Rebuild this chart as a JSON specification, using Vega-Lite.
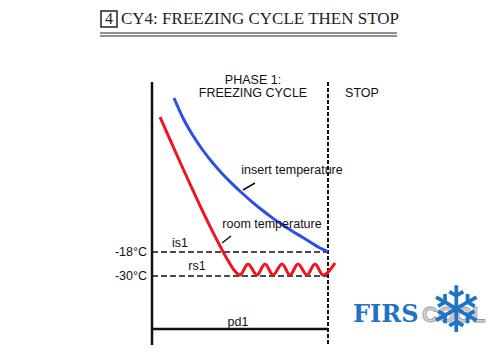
{
  "$schema": "https://vega.github.io/schema/vega-lite/v6.json",
  "width": 497,
  "height": 364,
  "padding": 0,
  "autosize": {"type": "none"},
  "background": "white",
  "config": {"view": {"stroke": null}},
  "encoding": {
    "x": {"type": "quantitative", "scale": {"domain": [-152, 345], "nice": false, "zero": false}, "axis": null},
    "y": {"type": "quantitative", "scale": {"domain": [-74, 108], "nice": false, "zero": false}, "axis": null}
  },
  "layer": [
    {
      "data": {"values": [
        {"t": 0, "t2": 0, "T": 67, "T2": -64.5},
        {"t": 0, "t2": 176, "T": -56.5, "T2": -56.5}
      ]},
      "mark": {"type": "rule", "color": "#111", "strokeWidth": 2.5},
      "encoding": {"x": {"field": "t"}, "x2": {"field": "t2"}, "y": {"field": "T"}, "y2": {"field": "T2"}}
    },
    {
      "data": {"values": [{"t": 176, "t2": 176, "T": 67, "T2": -64.5}]},
      "mark": {"type": "rule", "color": "#111", "strokeWidth": 2, "strokeDash": [4, 2]},
      "encoding": {"x": {"field": "t"}, "x2": {"field": "t2"}, "y": {"field": "T"}, "y2": {"field": "T2"}}
    },
    {
      "data": {"values": [
        {"t": 0, "t2": 176, "T": -18, "T2": -18},
        {"t": 0, "t2": 176, "T": -30, "T2": -30}
      ]},
      "mark": {"type": "rule", "color": "#111", "strokeWidth": 1.6, "strokeDash": [6, 3]},
      "encoding": {"x": {"field": "t"}, "x2": {"field": "t2"}, "y": {"field": "T"}, "y2": {"field": "T2"}}
    },
    {
      "data": {"values": [
        {"t": -52, "t2": 245, "T": 91.5, "T2": 91.5},
        {"t": -52, "t2": 245, "T": 90, "T2": 90}
      ]},
      "mark": {"type": "rule", "color": "#222", "strokeWidth": 1},
      "encoding": {"x": {"field": "t"}, "x2": {"field": "t2"}, "y": {"field": "T"}, "y2": {"field": "T2"}}
    },
    {
      "data": {"values": [
        {"t": 91, "t2": 103, "T": 13, "T2": 16.5},
        {"t": 70, "t2": 79, "T": -13.5, "T2": -10}
      ]},
      "mark": {"type": "rule", "color": "#111", "strokeWidth": 1.5},
      "encoding": {"x": {"field": "t"}, "x2": {"field": "t2"}, "y": {"field": "T"}, "y2": {"field": "T2"}}
    },
    {
      "data": {"values": [{"t": -51, "t2": -35, "T": 102.5, "T2": 94.5}]},
      "mark": {"type": "rect", "fill": null, "fillOpacity": 0, "stroke": "#222", "strokeWidth": 1.5},
      "encoding": {"x": {"field": "t"}, "x2": {"field": "t2"}, "y": {"field": "T"}, "y2": {"field": "T2"}}
    },
    {
      "data": {"values": [
        {"t": 22, "T": 59}, {"t": 31, "T": 49}, {"t": 40, "T": 41}, {"t": 50, "T": 33.5},
        {"t": 60, "T": 27}, {"t": 70, "T": 21.3}, {"t": 80, "T": 16.2}, {"t": 90, "T": 11.5},
        {"t": 100, "T": 7.1}, {"t": 110, "T": 3}, {"t": 120, "T": -0.8}, {"t": 130, "T": -4.3},
        {"t": 140, "T": -7.5}, {"t": 150, "T": -10.5}, {"t": 160, "T": -13.6}, {"t": 168, "T": -16},
        {"t": 176, "T": -17.8}
      ]},
      "mark": {"type": "line", "color": "#2b50e8", "strokeWidth": 3, "interpolate": "monotone"},
      "encoding": {"x": {"field": "t"}, "y": {"field": "T"}}
    },
    {
      "data": {"values": [
        {"t": 8, "T": 49.5}, {"t": 18, "T": 38.2}, {"t": 28, "T": 27}, {"t": 38, "T": 16},
        {"t": 48, "T": 5.2}, {"t": 58, "T": -5.2}, {"t": 68, "T": -15}, {"t": 76, "T": -22.3},
        {"t": 82, "T": -27}, {"t": 88, "T": -29.5}, {"t": 96, "T": -24}, {"t": 105, "T": -29.5},
        {"t": 113, "T": -24}, {"t": 121, "T": -29.5}, {"t": 130, "T": -24}, {"t": 138, "T": -29.5},
        {"t": 146, "T": -24}, {"t": 155, "T": -29.5}, {"t": 163, "T": -24}, {"t": 171, "T": -29.5},
        {"t": 183, "T": -23.5}
      ]},
      "mark": {"type": "line", "color": "#f0141e", "strokeWidth": 3, "interpolate": "monotone"},
      "encoding": {"x": {"field": "t"}, "y": {"field": "T"}}
    },
    {
      "data": {"values": [
        {"t": 101, "T": 68, "label": "PHASE 1:"},
        {"t": 101, "T": 61.5, "label": "FREEZING CYCLE"},
        {"t": 210, "T": 61.5, "label": "STOP"},
        {"t": 140, "T": 23, "label": "insert temperature"},
        {"t": 120, "T": -4, "label": "room temperature"},
        {"t": 28, "T": -13.5, "label": "is1"},
        {"t": 45, "T": -25, "label": "rs1"},
        {"t": 86, "T": -53, "label": "pd1"}
      ]},
      "mark": {"type": "text", "font": "Liberation Sans", "fontSize": 12.5, "color": "#111", "align": "center", "baseline": "middle"},
      "encoding": {"x": {"field": "t"}, "y": {"field": "T"}, "text": {"field": "label"}}
    },
    {
      "data": {"values": [
        {"t": -5, "T": -18, "label": "-18°C"},
        {"t": -5, "T": -30, "label": "-30°C"}
      ]},
      "mark": {"type": "text", "font": "Liberation Sans", "fontSize": 12.5, "color": "#111", "align": "right", "baseline": "middle"},
      "encoding": {"x": {"field": "t"}, "y": {"field": "T"}, "text": {"field": "label"}}
    },
    {
      "data": {"values": [{"t": -43, "T": 98.3, "label": "4"}]},
      "mark": {"type": "text", "font": "Liberation Serif", "fontSize": 16, "color": "#222", "align": "center", "baseline": "middle"},
      "encoding": {"x": {"field": "t"}, "y": {"field": "T"}, "text": {"field": "label"}}
    },
    {
      "data": {"values": [{"t": -31, "T": 98.3, "label": "CY4: FREEZING CYCLE THEN STOP"}]},
      "mark": {"type": "text", "font": "Liberation Serif", "fontSize": 17, "color": "#222", "align": "left", "baseline": "middle"},
      "encoding": {"x": {"field": "t"}, "y": {"field": "T"}, "text": {"field": "label"}}
    },
    {
      "data": {"values": [{"t": 270, "T": -49.5, "label": "COOL"}]},
      "mark": {"type": "text", "font": "Liberation Sans", "fontWeight": "bold", "fontSize": 22, "fill": "#d4d4d4", "stroke": "#999", "strokeWidth": 0.8, "align": "left", "baseline": "middle"},
      "encoding": {"x": {"field": "t"}, "y": {"field": "T"}, "text": {"field": "label"}}
    },
    {
      "data": {"values": [{"t": 304, "T": -48.5, "label": "❄"}]},
      "mark": {"type": "text", "font": "DejaVu Sans", "fontSize": 64, "color": "#1f74c4", "align": "center", "baseline": "middle"},
      "encoding": {"x": {"field": "t"}, "y": {"field": "T"}, "text": {"field": "label"}}
    },
    {
      "data": {"values": [{"t": 201, "T": -49.5, "label": "FIRS"}]},
      "mark": {"type": "text", "font": "DejaVu Serif", "fontWeight": "bold", "fontSize": 24, "color": "#1f74c4", "align": "left", "baseline": "middle"},
      "encoding": {"x": {"field": "t"}, "y": {"field": "T"}, "text": {"field": "label"}}
    }
  ]
}
